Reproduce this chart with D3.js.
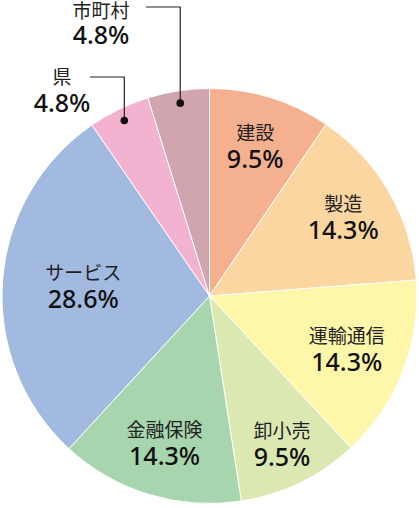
<!DOCTYPE html>
<html>
<head>
<meta charset="utf-8">
<script src="https://cdn.jsdelivr.net/npm/d3@7"></script>
<style>
  html, body { margin: 0; padding: 0; background: #fff; }
  svg { display: block; }
</style>
</head>
<body>
<div id="chart"></div>
<script>
// Data
const categories = ['建設', '製造', '運輸通信', '卸小売', '金融保険', 'サービス', '県', '市町村'];
const values = [9.5, 14.3, 14.3, 9.5, 14.3, 28.6, 4.8, 4.8];
const colors = ['#f5b08f', '#fcd6a0', '#fef7a9', '#dbe8b2', '#a7d5ad', '#a2b9e0', '#f3b3d0', '#d1a5ae'];

const width = 419, height = 508;
const cx = 209.5, cy = 296, radius = 207.5;

const svg = d3.select('#chart')
    .append('svg')
    .attr('width', width)
    .attr('height', height);

const g = svg.append('g')
    .attr('transform', `translate(${cx},${cy})`);

const pie = d3.pie().sort(null).value(d => d);
const arcs = pie(values);

const arc = d3.arc().innerRadius(0).outerRadius(radius);

g.selectAll('path.slice')
    .data(arcs)
    .enter().append('path')
    .attr('class', 'slice')
    .attr('d', arc)
    .attr('fill', (d, i) => colors[i])
    .attr('stroke', '#fff')
    .attr('stroke-width', 1);

// label radius as a fraction of the pie radius (inside labels)
const labelFactor = {'建設': 0.75, '製造': 0.745, '運輸通信': 0.71, '卸小売': 0.80, '金融保険': 0.745, 'サービス': 0.61};
// callout labels for the small slices
const callout = {
    '県':   {lineY: 77, lineX: 90, textX: 62, nameY: 84, pctY: 112},
    '市町村': {lineY: 7, lineX: 146, textX: 101, nameY: 18, pctY: 44}
};

const nameFont = '"Noto Sans CJK JP", "Noto Sans", sans-serif';
const pctFont = '"Noto Sans", "Noto Sans CJK JP", sans-serif';

function pos(a, r) {
    const ang = (a.startAngle + a.endAngle) / 2;
    return [r * Math.sin(ang), -r * Math.cos(ang)];
}

arcs.forEach((a, i) => {
    const name = categories[i];
    const pct = values[i].toFixed(1) + '%';
    if (callout[name]) {
        const c = callout[name];
        const [dx, dy] = pos(a, radius * 0.94);
        const px = cx + dx, py = cy + dy;
        svg.append('polyline')
            .attr('points', `${px},${py} ${px},${c.lineY} ${c.lineX},${c.lineY}`)
            .attr('fill', 'none')
            .attr('stroke', '#222')
            .attr('stroke-width', 1.2);
        svg.append('circle')
            .attr('cx', px).attr('cy', py).attr('r', 3.8)
            .attr('fill', '#111');
        svg.append('text')
            .attr('x', c.textX).attr('y', c.nameY)
            .attr('text-anchor', 'middle')
            .style('font-family', nameFont).style('font-size', '19px')
            .attr('fill', '#222')
            .text(name);
        svg.append('text')
            .attr('x', c.textX).attr('y', c.pctY)
            .attr('text-anchor', 'middle')
            .style('font-family', pctFont).style('font-size', '25px').style('font-weight', 500)
            .attr('fill', '#111')
            .text(pct);
    } else {
        const [x, y] = pos(a, radius * labelFactor[name]);
        g.append('text')
            .attr('x', x).attr('y', y - 7)
            .attr('text-anchor', 'middle')
            .style('font-family', nameFont).style('font-size', '19px')
            .attr('fill', '#222')
            .text(name);
        g.append('text')
            .attr('x', x).attr('y', y + 21)
            .attr('text-anchor', 'middle')
            .style('font-family', pctFont).style('font-size', '25px').style('font-weight', 500)
            .attr('fill', '#111')
            .text(pct);
    }
});
</script>
</body>
</html>
